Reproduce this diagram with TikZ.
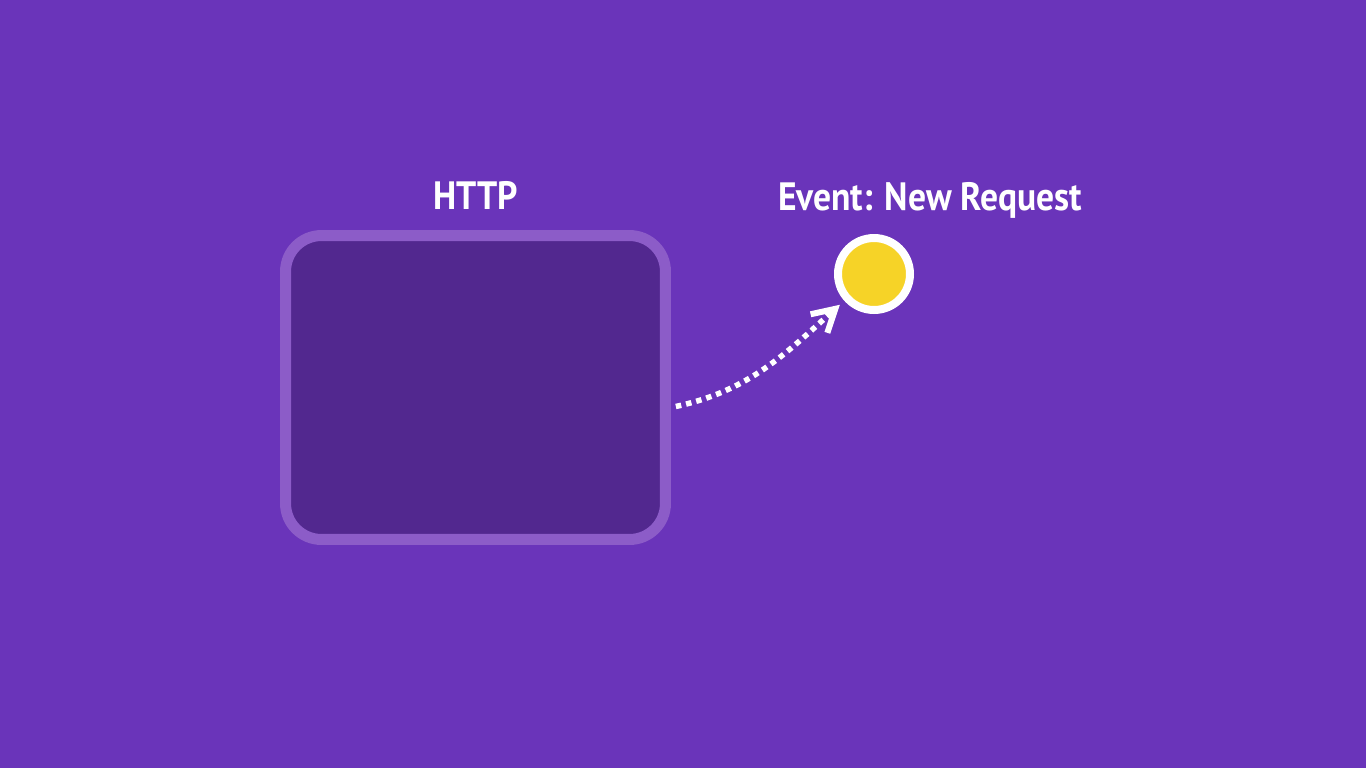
\documentclass[tikz,border=0pt]{standalone}
\usepackage{fontspec}
\setmainfont{PT Sans}[FakeStretch=0.9]
\usetikzlibrary{positioning,arrows.meta}
\definecolor{bgpurple}{HTML}{6A34BA}
\definecolor{boxfill}{HTML}{52288F}
\definecolor{boxedge}{HTML}{8C5CC8}
\definecolor{evtyellow}{HTML}{F6D327}
\tikzset{
  lbl/.style={text=white,font=\fontsize{22.5}{26}\selectfont\bfseries,inner sep=0pt},
  modbox/.style={draw=boxedge,fill=boxfill,line width=0.22cm,rounded corners=0.72cm,
    minimum width=7.6cm,minimum height=6.08cm},
  evtdot/.style={circle,draw=white,fill=evtyellow,line width=0.16cm,minimum size=1.44cm,inner sep=0pt},
  emits/.style={white,line width=0.11cm,line cap=butt,dash pattern=on 0.11cm off 0.1cm,
    -{Straight Barb[length=0.44cm,width=0.5cm,line width=0.12cm]}}
}
\begin{document}
\begin{tikzpicture}[x=0.02cm,y=-0.02cm]
\fill[bgpurple] (0,0) rectangle (1366,768);
\useasboundingbox (0,0) rectangle (1366,768);
\node[modbox] (box) at (475.5,387.5) {};
\node[lbl, above=0.4cm of box] (httplbl) {HTTP};
\node[evtdot] (evt) at (874,274) {};
\node[lbl, anchor=base] (evtlbl) at (930,210) {Event: New Request};
% event fired by the module
\draw[emits,shorten <=0.1cm,shorten >=0.12cm] ([yshift=-0.4cm]box.east) to[out=12,in=222] (evt);
\end{tikzpicture}
\end{document}
